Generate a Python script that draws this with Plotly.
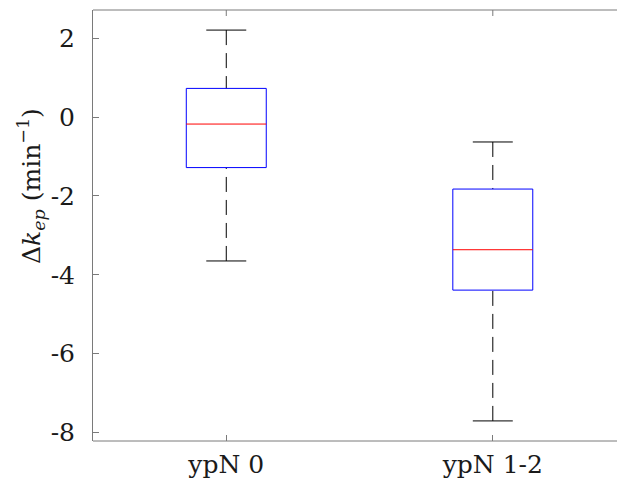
import plotly.graph_objects as go

groups = ["ypN 0", "ypN 1-2"]
positions = [1, 2]
upper_whisker = [2.21, -0.63]
q3 = [0.73, -1.825]
median = [-0.175, -3.365]
q1 = [-1.28, -4.39]
lower_whisker = [-3.65, -7.71]
y_ticks = [-8, -6, -4, -2, 0, 2]

BOX_HALF = 0.15
CAP_HALF = 0.075
FONT = "DejaVu Serif"
AXIS_GRAY = "#7a7a7a"
PLOT_H = 490 - 10 - 49

fig = go.Figure()
for i, x in enumerate(positions):
    fig.add_trace(go.Scatter(x=[x, x], y=[upper_whisker[i], q3[i]], mode="lines",
                             line=dict(color="black", width=1, dash="15px,8px"),
                             showlegend=False, hoverinfo="skip"))
    fig.add_trace(go.Scatter(x=[x, x], y=[lower_whisker[i], q1[i]], mode="lines",
                             line=dict(color="black", width=1, dash="15px,8px"),
                             showlegend=False, hoverinfo="skip"))
    for v in (upper_whisker[i], lower_whisker[i]):
        fig.add_trace(go.Scatter(x=[x - CAP_HALF, x + CAP_HALF], y=[v, v], mode="lines",
                                 line=dict(color="black", width=1),
                                 showlegend=False, hoverinfo="skip"))
    fig.add_trace(go.Scatter(x=[x - BOX_HALF, x + BOX_HALF, x + BOX_HALF, x - BOX_HALF, x - BOX_HALF],
                             y=[q1[i], q1[i], q3[i], q3[i], q1[i]], mode="lines",
                             line=dict(color="#0000ff", width=1),
                             showlegend=False, hoverinfo="skip"))
    fig.add_trace(go.Scatter(x=[x - BOX_HALF, x + BOX_HALF], y=[median[i], median[i]], mode="lines",
                             line=dict(color="#ff0000", width=1),
                             showlegend=False, hoverinfo="skip"))

shapes = [
    dict(type="line", xref="paper", yref="paper", x0=0, x1=1, y0=0, y1=0,
         line=dict(color=AXIS_GRAY, width=1), layer="above"),
    dict(type="line", xref="paper", yref="paper", x0=0, x1=1, y0=1, y1=1,
         line=dict(color=AXIS_GRAY, width=1), layer="above"),
]
for x in positions:
    shapes.append(dict(type="line", xref="x", yref="paper", x0=x, x1=x,
                       y0=1, y1=1 - 6 / PLOT_H, line=dict(color=AXIS_GRAY, width=1)))

fig.update_layout(
    width=617, height=490,
    margin=dict(l=93, r=0, t=10, b=49, pad=0),
    paper_bgcolor="white", plot_bgcolor="white",
    font=dict(family=FONT, size=25, color="#1a1a1a"),
    xaxis=dict(range=[0.5, 2.466], tickvals=positions, ticktext=groups,
               showgrid=False, zeroline=False, showline=False,
               ticks="inside", ticklen=6, tickcolor=AXIS_GRAY,
               ticklabelstandoff=6, tickfont=dict(family=FONT, size=25, color="#1a1a1a")),
    yaxis=dict(range=[-8.22, 2.72], tickvals=y_ticks, ticktext=[str(v) for v in y_ticks],
               showgrid=False, zeroline=False, showline=True, linecolor=AXIS_GRAY,
               linewidth=1, mirror=False, ticks="inside", ticklen=6, tickcolor=AXIS_GRAY,
               ticklabelstandoff=12, tickfont=dict(family=FONT, size=25, color="#1a1a1a")),
    shapes=shapes,
    annotations=[dict(text="Δ<i>k</i><sub><i>ep</i></sub> (min<sup>−1</sup>)",
                      xref="paper", yref="paper", x=-0.118, y=0.592,
                      xanchor="center", yanchor="middle", textangle=-90,
                      showarrow=False, font=dict(family=FONT, size=25, color="#1a1a1a"))],
)

fig.write_html("out.html", config={"displayModeBar": False})
